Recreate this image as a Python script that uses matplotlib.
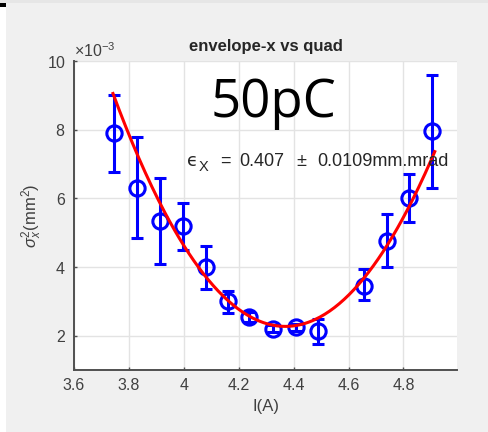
import numpy as np
import matplotlib
matplotlib.use("Agg")
import matplotlib.pyplot as plt
from matplotlib.ticker import ScalarFormatter
from matplotlib.patches import Rectangle

plt.rcParams['font.family'] = ['Liberation Sans', 'DejaVu Sans']
plt.rcParams['mathtext.fontset'] = 'custom'
plt.rcParams['mathtext.rm'] = 'Liberation Sans'
plt.rcParams['mathtext.it'] = 'Liberation Sans:italic'
plt.rcParams['mathtext.bf'] = 'Liberation Sans:bold'
plt.rcParams['axes.unicode_minus'] = False

# Quadrupole current scan: beam size squared with error bars
current_A = [3.746, 3.830, 3.914, 3.998, 4.082, 4.162, 4.237, 4.326,
             4.407, 4.490, 4.655, 4.739, 4.819, 4.903]
sigma2_e3 = [7.90, 6.30, 5.35, 5.20, 4.00, 3.00, 2.55, 2.20,
             2.25, 2.15, 3.45, 4.75, 6.00, 7.97]
err_lo_e3 = [1.12, 1.45, 1.25, 0.70, 0.65, 0.33, 0.15, 0.10,
             0.10, 0.40, 0.40, 0.75, 0.70, 1.67]
err_hi_e3 = [1.10, 1.50, 1.25, 0.67, 0.60, 0.30, 0.15, 0.10,
             0.10, 0.35, 0.50, 0.80, 0.70, 1.63]

# Parabolic fit: a*(I - I0)^2 + c  (units of 1e-3 mm^2)
fit_a, fit_I0, fit_c = 17.2, 4.37, 2.27
fit_range = (3.742, 4.914)

x_ticks = [3.6, 3.8, 4.0, 4.2, 4.4, 4.6, 4.8]
x_tick_labels = ['3.6', '3.8', '4', '4.2', '4.4', '4.6', '4.8']
y_ticks_e3 = [2, 4, 6, 8, 10]

W, H = 488, 432
fig = plt.figure(figsize=(W / 100, H / 100), dpi=100)
fig.patch.set_facecolor('#f0f0f0')


def px(xp, yp):
    return xp / W, 1 - yp / H


# window edge decorations
fig.add_artist(Rectangle((0, 0), 6 / W, 1, transform=fig.transFigure,
                         facecolor='white', edgecolor='none', zorder=-1))
fig.add_artist(Rectangle((0, 1 - 3 / H), 1, 3 / H, transform=fig.transFigure,
                         facecolor='#e6e6e6', edgecolor='none', zorder=-1))
fig.add_artist(Rectangle((0, 1 - 7 / H), 6 / W, 4 / H, transform=fig.transFigure,
                         facecolor='black', edgecolor='none', zorder=0))

ax = fig.add_axes([74 / W, 1 - 370 / H, (457 - 74) / W, (370 - 61) / H])
ax.set_facecolor('white')

x = np.array(current_A)
y = np.array(sigma2_e3) * 1e-3
yerr = np.vstack([np.array(err_lo_e3), np.array(err_hi_e3)]) * 1e-3

ax.errorbar(x, y, yerr=yerr, fmt='o', color='#0000ff', markerfacecolor='none',
            markersize=11, markeredgewidth=2.2, elinewidth=2.2, capsize=4,
            capthick=2.2, zorder=3)

xf = np.linspace(fit_range[0], fit_range[1], 200)
yf = (fit_a * (xf - fit_I0) ** 2 + fit_c) * 1e-3
ax.plot(xf, yf, color='#ff0000', lw=2.2, zorder=4)

ax.set_xlim(3.6, 4.995)
ax.set_ylim(1e-3, 10e-3)
ax.set_xticks(x_ticks)
ax.set_xticklabels(x_tick_labels)
ax.set_yticks(np.array(y_ticks_e3) * 1e-3)

fmt = ScalarFormatter(useMathText=True)
fmt.set_powerlimits((-3, -3))
ax.yaxis.set_major_formatter(fmt)
ax.yaxis.get_offset_text().set_fontsize(11.5)
ax.yaxis.get_offset_text().set_color('#404040')

ax.grid(True, color='#e3e3e3', lw=1.0)
ax.set_axisbelow(True)
for s in ['top', 'right']:
    ax.spines[s].set_visible(False)
for s in ['left', 'bottom']:
    ax.spines[s].set_color('#505050')
    ax.spines[s].set_linewidth(1.4)
ax.tick_params(direction='in', length=2.5, width=1, color='#505050',
               labelsize=11.5, labelcolor='#404040', pad=6)

ax.set_title('envelope-x vs quad', fontsize=12, fontweight='bold',
             color='#262626', pad=7)
ax.set_xlabel('I(A)', fontsize=12, color='#404040', labelpad=4)
ax.set_ylabel(r'$\sigma_x^2$(mm$^2$)', fontsize=12, color='#404040', labelpad=2)

fig.text(*px(274, 103), '50pC', fontsize=38, family='Open Sans',
         ha='center', va='center', color='black')

# emittance annotation, built from pieces to mimic the MATLAB TeX layout
eps_color = '#262626'
fig.text(*px(187, 166), '\u03f5', fontsize=13, color=eps_color,
         family=['DejaVu Sans'], ha='left', va='baseline')
fig.text(*px(199, 171), 'X', fontsize=10.5, color=eps_color,
         ha='left', va='baseline')
fig.text(*px(220, 166), '=', fontsize=13, color=eps_color,
         ha='left', va='baseline')
fig.text(*px(239, 166), '0.407', fontsize=13, color=eps_color,
         ha='left', va='baseline')
fig.text(*px(296, 166), '\u00b1', fontsize=13, color=eps_color,
         ha='left', va='baseline')
fig.text(*px(317, 166), '0.0109mm.mrad', fontsize=13, color=eps_color,
         ha='left', va='baseline')

fig.savefig('out.png', dpi=100, facecolor=fig.get_facecolor())
